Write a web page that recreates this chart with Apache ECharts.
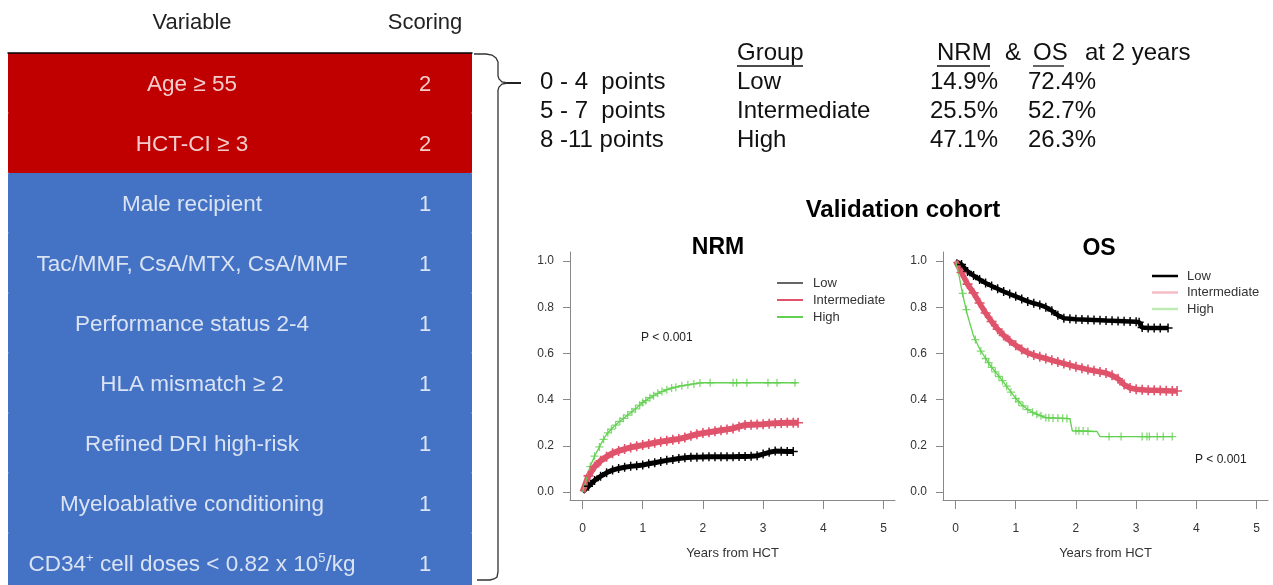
<!DOCTYPE html>
<html>
<head>
<meta charset="utf-8">
<script src="https://cdn.jsdelivr.net/npm/echarts@6/dist/echarts.min.js"></script>
<style>
html,body{margin:0;padding:0;background:#fff;}
#chart{width:1273px;height:585px;}
</style>
</head>
<body>
<div id="chart"></div>
<script>
// ---------- data ----------
const variables = ['Age \u2265 55','HCT-CI \u2265 3','Male recipient','Tac/MMF, CsA/MTX, CsA/MMF','Performance status 2-4','HLA mismatch \u2265 2','Refined DRI high-risk','Myeloablative conditioning','CD34'];
const scores = [2,2,1,1,1,1,1,1,1];

const pointRanges = ['0 - 4  points','5 - 7  points','8 -11 points'];
const groups = ['Low','Intermediate','High'];
const nrm2y = ['14.9%','25.5%','47.1%'];
const os2y = ['72.4%','52.7%','26.3%'];

const xTicks = [0,1,2,3,4,5];
const yTicks = [0,0.2,0.4,0.6,0.8,1.0];

const nrmLow = [[0,0],[0.1,0.025],[0.2,0.05],[0.3,0.068],[0.4,0.083],[0.5,0.095],[0.6,0.102],[0.7,0.107],[0.8,0.111],[0.9,0.114],[1.0,0.117],[1.1,0.122],[1.2,0.127],[1.3,0.132],[1.4,0.137],[1.5,0.141],[1.6,0.145],[1.7,0.148],[1.8,0.15],[1.9,0.151],[2.0,0.152],[2.1,0.153],[2.2,0.153],[2.3,0.153],[2.4,0.153],[2.5,0.153],[2.6,0.154],[2.7,0.154],[2.8,0.155],[2.9,0.157],[3.0,0.164],[3.1,0.172],[3.2,0.177],[3.3,0.176],[3.4,0.175],[3.5,0.175]];
const nrmInt = [[0,0],[0.1,0.07],[0.2,0.11],[0.3,0.135],[0.4,0.153],[0.5,0.168],[0.6,0.178],[0.7,0.186],[0.8,0.193],[0.9,0.198],[1.0,0.203],[1.1,0.208],[1.2,0.213],[1.3,0.218],[1.4,0.222],[1.5,0.226],[1.6,0.23],[1.7,0.236],[1.8,0.243],[1.9,0.25],[2.0,0.255],[2.1,0.259],[2.2,0.263],[2.3,0.267],[2.4,0.271],[2.5,0.275],[2.6,0.283],[2.7,0.29],[2.8,0.291],[2.9,0.292],[3.0,0.293],[3.1,0.296],[3.2,0.298],[3.3,0.299],[3.4,0.3],[3.5,0.3],[3.58,0.3]];
const nrmHigh = [[0,0],[0.05,0.04],[0.1,0.09],[0.15,0.125],[0.2,0.155],[0.3,0.205],[0.4,0.25],[0.5,0.278],[0.6,0.302],[0.7,0.323],[0.8,0.343],[0.9,0.365],[1.0,0.387],[1.1,0.405],[1.2,0.42],[1.3,0.433],[1.4,0.443],[1.5,0.451],[1.6,0.457],[1.7,0.462],[1.8,0.466],[1.9,0.47],[2.0,0.473],[3.56,0.473]];
const nrmHighCens = [[0.13,0.11],[0.2,0.155],[0.28,0.195],[0.35,0.228],[0.42,0.256],[0.48,0.272],[0.55,0.29],[0.62,0.306],[0.68,0.319],[0.75,0.333],[0.82,0.347],[0.88,0.36],[0.95,0.376],[1.0,0.387],[1.05,0.396],[1.12,0.408],[1.18,0.417],[1.25,0.427],[1.32,0.435],[1.4,0.443],[1.48,0.45],[1.55,0.454],[1.65,0.46],[1.75,0.464],[1.85,0.468],[1.95,0.472],[2.12,0.473],[2.5,0.473],[2.56,0.473],[2.73,0.473],[3.08,0.473],[3.23,0.473],[3.53,0.473]];

const osLow = [[0,1],[0.1,0.985],[0.2,0.955],[0.3,0.937],[0.4,0.92],[0.5,0.905],[0.6,0.892],[0.7,0.88],[0.8,0.868],[0.9,0.857],[1.0,0.847],[1.1,0.836],[1.2,0.825],[1.3,0.817],[1.4,0.81],[1.5,0.8],[1.6,0.785],[1.7,0.765],[1.8,0.752],[1.9,0.75],[2.0,0.748],[2.1,0.747],[2.2,0.746],[2.3,0.745],[2.4,0.744],[2.5,0.742],[2.6,0.741],[2.7,0.74],[2.8,0.739],[2.9,0.738],[3.0,0.737],[3.05,0.735],[3.1,0.712],[3.2,0.71],[3.3,0.71],[3.4,0.71],[3.53,0.71]];
const osInt = [[0,1],[0.1,0.95],[0.2,0.9],[0.3,0.862],[0.4,0.818],[0.5,0.775],[0.6,0.738],[0.7,0.705],[0.8,0.678],[0.9,0.655],[1.0,0.635],[1.1,0.617],[1.2,0.603],[1.3,0.593],[1.4,0.585],[1.5,0.578],[1.6,0.57],[1.7,0.563],[1.8,0.556],[1.9,0.549],[2.0,0.542],[2.1,0.536],[2.2,0.53],[2.3,0.525],[2.4,0.52],[2.5,0.515],[2.6,0.505],[2.7,0.49],[2.8,0.465],[2.9,0.45],[3.0,0.445],[3.1,0.443],[3.2,0.441],[3.3,0.44],[3.4,0.439],[3.5,0.438],[3.6,0.437],[3.68,0.437]];
const osHigh = [[0,1],[0.05,0.95],[0.1,0.88],[0.15,0.82],[0.2,0.765],[0.3,0.675],[0.4,0.62],[0.5,0.578],[0.6,0.54],[0.7,0.508],[0.8,0.475],[0.9,0.44],[1.0,0.405],[1.1,0.378],[1.2,0.357],[1.3,0.342],[1.4,0.332],[1.5,0.322],[1.9,0.318],[1.94,0.265],[2.35,0.262],[2.4,0.24],[3.6,0.24]];
const osHighCens = [[0.12,0.86],[0.18,0.79],[0.33,0.66],[0.42,0.61],[0.5,0.578],[0.55,0.56],[0.6,0.54],[0.66,0.52],[0.72,0.5],[0.78,0.482],[0.85,0.458],[0.92,0.432],[1.0,0.405],[1.05,0.39],[1.12,0.373],[1.2,0.357],[1.28,0.345],[1.35,0.337],[1.42,0.33],[1.5,0.322],[1.55,0.321],[1.62,0.32],[1.7,0.32],[1.78,0.319],[1.85,0.318],[2.0,0.265],[2.05,0.265],[2.12,0.264],[2.2,0.263],[2.55,0.24],[2.75,0.24],[3.1,0.24],[3.18,0.24],[3.22,0.24],[3.35,0.24],[3.45,0.24],[3.6,0.24]];

// ---------- styles ----------
const FONT = "'Liberation Sans', Arial, sans-serif";
const RED = '#C00000', BLUE = '#4472C4';
const C_LOW = '#000000', C_INT = '#DF536B', C_HIGH = '#61D04F';
const PLUS = 'path://M0,4.2H10V5.8H0ZM4.2,0H5.8V10H4.2Z';
const textColX = 0.3966, scoreColX = 0.8987;

const chart = echarts.init(document.getElementById('chart'), null, {renderer:'canvas'});

function kmXAxis(grid){
  return {gridIndex:grid, type:'value', min:-0.2076, max:5.19,
    axisLine:{show:true, onZero:false, lineStyle:{color:'#888', width:1}},
    axisTick:{show:true, length:9, customValues:xTicks, lineStyle:{color:'#888'}},
    axisLabel:{show:true, customValues:xTicks, margin:23, fontSize:12, color:'#333', fontFamily:FONT, formatter:v=>String(Math.round(v))},
    splitLine:{show:false},
    name:'Years from HCT', nameLocation:'middle', nameGap:47,
    nameTextStyle:{fontSize:13, color:'#333', fontFamily:FONT}};
}
function kmYAxis(grid){
  return {gridIndex:grid, type:'value', min:-0.0346, max:1.039,
    axisLine:{show:true, onZero:false, lineStyle:{color:'#888', width:1}},
    axisTick:{show:true, length:7, customValues:yTicks, lineStyle:{color:'#888'}},
    axisLabel:{show:true, customValues:yTicks, margin:16, fontSize:12, color:'#333', fontFamily:FONT, formatter:v=>v.toFixed(1)},
    splitLine:{show:false}};
}
function markedLine(name, data, color, xi, size, width){
  return {name, type:'line', xAxisIndex:xi, yAxisIndex:xi, silent:true, animation:false,
    data: data.map(d => d[0] < 0.06 ? {value:d, symbol:'none'} : {value:d}),
    showSymbol:true, symbol:PLUS, symbolSize:size, showAllSymbol:true,
    lineStyle:{color, width}, itemStyle:{color}, emphasis:{disabled:true}};
}
function plainLine(name, data, color, xi, width){
  return {name, type:'line', xAxisIndex:xi, yAxisIndex:xi, silent:true, animation:false,
    data, showSymbol:false, symbol:'none', lineStyle:{color, width}, itemStyle:{color}, emphasis:{disabled:true}};
}
function censor(name, data, color, xi){
  return {name, type:'scatter', xAxisIndex:xi, yAxisIndex:xi, silent:true, animation:false,
    data, symbol:PLUS, symbolSize:8, itemStyle:{color}, emphasis:{disabled:true}};
}

const cd34Label = '{n|CD34}{p|+}{n| cell doses < 0.82 x 10}{p|5}{n|/kg}';

const graphic = [];
function txt(text, x, y, opts){
  graphic.push({type:'text', x, y, silent:true,
    style:Object.assign({text, font:'24px '+FONT, fill:'#111', align:'left', verticalAlign:'middle'}, opts||{})});
}
txt('Variable', 192, 23, {font:'22px '+FONT, align:'center', fill:'#222'});
txt('Scoring', 425, 23, {font:'22px '+FONT, align:'center', fill:'#222'});
// brace
graphic.push({type:'polyline', silent:true, shape:{points:[[474,54],[486,54],[492,55],[496,58],[498,62],[498,76],[499,79],[502,82],[508,83],[521,83]]},
  style:{stroke:'#333', lineWidth:1.3, fill:null}});
graphic.push({type:'polyline', silent:true, shape:{points:[[508,83],[502,84],[499,87],[498,90],[498,572],[497,577],[494,579],[490,580],[477,580]]},
  style:{stroke:'#333', lineWidth:1.3, fill:null}});
graphic.push({type:'line', silent:true, shape:{x1:507,y1:83,x2:521,y2:83}, style:{stroke:'#222', lineWidth:2}});
// top block
txt('Group', 737, 53);
txt('NRM', 937, 53);
txt('&', 1005, 53);
txt('OS', 1033, 53);
txt('at 2 years', 1085, 53);
[[737,803],[937,990],[1033,1064]].forEach(([a,b]) => graphic.push({type:'line', silent:true, shape:{x1:a,y1:66,x2:b,y2:66}, style:{stroke:'#111', lineWidth:1.3}}));
const rowY = [82,111,140];
groups.forEach((g,i) => {
  txt(pointRanges[i], 540, rowY[i]);
  txt(g, 737, rowY[i]);
  txt(nrm2y[i], 930, rowY[i]);
  txt(os2y[i], 1028, rowY[i]);
});
txt('Validation cohort', 903, 210, {font:'bold 24px '+FONT, align:'center', fill:'#000'});
txt('NRM', 718, 248, {font:'bold 23px '+FONT, align:'center', fill:'#000'});
txt('OS', 1099, 249, {font:'bold 23px '+FONT, align:'center', fill:'#000'});
txt('P < 0.001', 641, 338, {font:'12px '+FONT, fill:'#222'});
txt('P < 0.001', 1195, 460, {font:'12px '+FONT, fill:'#222'});

const option = {
  animation:false,
  textStyle:{fontFamily:FONT},
  grid:[
    {left:8, top:53, width:464, height:540, outerBoundsMode:'none', containLabel:false},
    {left:570, top:252, width:325, height:248, outerBoundsMode:'none'},
    {left:943, top:252, width:325, height:248, outerBoundsMode:'none'}
  ],
  xAxis:[
    {gridIndex:0, type:'value', min:0, max:1, position:'top', axisLine:{show:true, lineStyle:{color:'#000', width:1.5}}, axisTick:{show:false}, axisLabel:{show:false}, splitLine:{show:false}, z:5},
    kmXAxis(1), kmXAxis(2)
  ],
  yAxis:[
    {gridIndex:0, type:'category', inverse:true, data:variables, show:false},
    kmYAxis(1), kmYAxis(2)
  ],
  legend:[
    {left:777, top:276, orient:'vertical', padding:0, itemWidth:26, itemHeight:2, itemGap:3, icon:'rect', selectedMode:false,
      textStyle:{fontSize:13, color:'#333', fontFamily:FONT, lineHeight:14, padding:[0,0,0,5]},
      data:[{name:'Low', itemStyle:{color:'#666'}},{name:'Intermediate', itemStyle:{color:C_INT}},{name:'High', itemStyle:{color:C_HIGH}}]},
    {left:1152, top:269, orient:'vertical', padding:0, itemWidth:26, itemHeight:2.5, itemGap:2.5, icon:'rect', selectedMode:false,
      textStyle:{fontSize:13, color:'#333', fontFamily:FONT, lineHeight:14, padding:[0,0,0,4]},
      data:[{name:'Low', itemStyle:{color:'#000'}},{name:'Intermediate', itemStyle:{color:'#F6BCC6'}},{name:'High', itemStyle:{color:'#BDEBB3'}}]}
  ],
  graphic,
  series:[
    {type:'bar', xAxisIndex:0, yAxisIndex:0, silent:true, barCategoryGap:'0%', barWidth:'100%',
      data: scores.map(s => ({value:1, itemStyle:{color: s === 2 ? RED : BLUE, borderColor: s === 2 ? RED : BLUE, borderWidth:1}})), emphasis:{disabled:true}},
    {type:'scatter', xAxisIndex:0, yAxisIndex:0, silent:true, symbolSize:1, itemStyle:{color:'rgba(0,0,0,0)'}, z:10,
      data: variables.map((v,i) => [textColX, i]),
      label:{show:true, position:'inside', offset:[0,2], color:'#fff', fontSize:22.5, fontFamily:FONT,
        formatter: p => variables[p.dataIndex] === 'CD34' ? cd34Label : '{n|' + variables[p.dataIndex] + '}',
        rich:{n:{fontSize:22.5, color:'#fff', fontFamily:FONT, lineHeight:26, verticalAlign:'middle'},
              p:{fontSize:13, color:'#fff', fontFamily:FONT, lineHeight:13, verticalAlign:'top'}}},
      emphasis:{disabled:true}},
    {type:'scatter', xAxisIndex:0, yAxisIndex:0, silent:true, symbolSize:1, itemStyle:{color:'rgba(0,0,0,0)'}, z:10,
      data: scores.map((s,i) => [scoreColX, i]),
      label:{show:true, position:'inside', offset:[0,2], color:'#fff', fontSize:22, fontFamily:FONT, formatter: p => String(scores[p.dataIndex])},
      emphasis:{disabled:true}},

    markedLine('Low', nrmLow, C_LOW, 1, 9, 5),
    markedLine('Intermediate', nrmInt, C_INT, 1, 10, 6),
    plainLine('High', nrmHigh, C_HIGH, 1, 1.3),
    censor('High', nrmHighCens, C_HIGH, 1),

    markedLine('Low', osLow, C_LOW, 2, 9, 4.5),
    markedLine('Intermediate', osInt, C_INT, 2, 10, 5.5),
    plainLine('High', osHigh, C_HIGH, 2, 1.3),
    censor('High', osHighCens, C_HIGH, 2)
  ]
};
chart.setOption(option);
</script>
</body>
</html>
